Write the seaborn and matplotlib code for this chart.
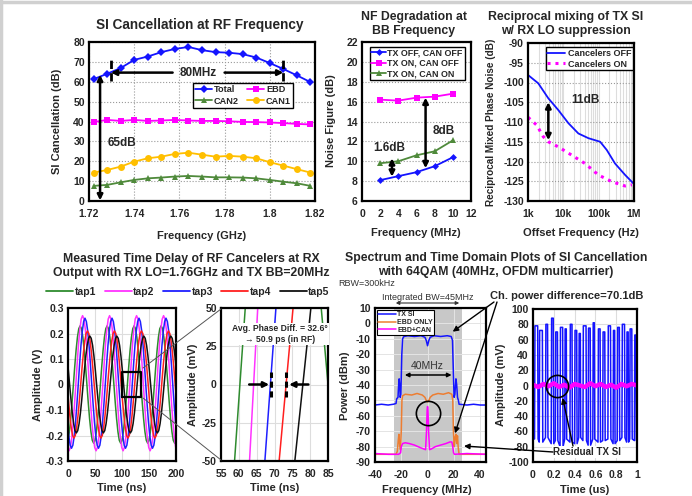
import matplotlib.pyplot as plt
import numpy as np
import seaborn as sns
from matplotlib.lines import Line2D
from matplotlib.patches import FancyArrowPatch

W, H = 692, 496

# ---- SI cancellation at RF frequency ----
rf_freq = [1.722, 1.728, 1.734, 1.740, 1.746, 1.752, 1.758, 1.764, 1.770,
           1.776, 1.782, 1.788, 1.794, 1.800, 1.806, 1.812, 1.818]
si_total = [61.3, 64.0, 66.9, 71.0, 72.7, 74.9, 76.5, 77.5, 75.9, 74.9, 74.6,
            73.9, 72.2, 69.4, 66.4, 63.2, 59.8]
si_ebd = [39.7, 40.8, 40.3, 40.8, 40.3, 40.5, 40.8, 40.5, 40.3, 40.3, 40.1,
          39.8, 39.7, 39.5, 39.2, 38.8, 38.5]
si_can2 = [7.6, 8.1, 9.4, 10.6, 11.4, 11.8, 12.3, 12.6, 12.3, 11.9, 11.9,
           11.8, 11.4, 10.6, 9.7, 8.9, 7.6]
si_can1 = [14.3, 15.6, 17.3, 19.8, 21.5, 22.3, 23.7, 24.3, 23.3, 22.3, 22.7,
           22.3, 21.5, 19.5, 17.8, 16.0, 14.3]

# ---- NF degradation ----
bb_freq = [2, 4, 6, 8, 10]
nf_off_off = [8.1, 8.5, 8.9, 9.5, 10.4]
nf_on_off = [16.2, 16.1, 16.4, 16.5, 16.8]
nf_on_on = [9.8, 10.0, 10.6, 11.0, 12.1]

# ---- reciprocal mixing ----
pn_off_f = [1e3, 1.95e3, 3.76e3, 7.24e3, 1.39e4, 2.66e4, 5.13e4, 1.1e5,
            1.7e5, 2.9e5, 5.6e5, 9.5e5]
pn_off = [-98.1, -100.2, -104.0, -107.0, -110.3, -112.9, -114.1, -115.0,
          -117.1, -120.5, -123.4, -125.5]
pn_on_f = [1e3, 1.77e3, 2.7e3, 3.76e3, 7.24e3, 1.73e4, 4.1e4, 9.8e4,
           2.35e5, 5.6e5, 8.7e5]
pn_on = [-108.8, -110.8, -113.7, -115.0, -116.3, -118.4, -120.5, -123.4,
         -125.1, -126.2, -125.9]

# ---- time delay of taps (one 50 ns period, 2.5 ns steps, from rising zero) ----
tap_names = ["tap1", "tap2", "tap3", "tap4", "tap5"]
tap_colors = ["#2e8b2e", "#ff33ff", "#1f1fff", "#ff1f1f", "#111111"]
tap_zero = [10.0, 14.5, 19.0, 23.5, 28.0]
tap_period = [
    [0, .071, .135, .186, .219, .23, .219, .186, .135, .071,
     0, -.071, -.135, -.186, -.219, -.23, -.219, -.186, -.135, -.071],
    [0, .083, .159, .218, .257, .27, .257, .218, .159, .083,
     0, -.080, -.153, -.210, -.247, -.26, -.247, -.210, -.153, -.080],
    [0, .080, .153, .210, .247, .26, .247, .210, .153, .080,
     0, -.077, -.147, -.202, -.238, -.25, -.238, -.202, -.147, -.077],
    [0, .065, .123, .170, .200, .21, .200, .170, .123, .065,
     0, -.065, -.123, -.170, -.200, -.21, -.200, -.170, -.123, -.065],
    [0, .059, .112, .154, .181, .19, .181, .154, .112, .059,
     0, -.059, -.112, -.154, -.181, -.19, -.181, -.154, -.112, -.059],
]
# zoomed view: time (ns) where each tap crosses -50 mV and +50 mV
inset_lo = [58.8, 63.0, 67.3, 71.3, 75.7]
inset_hi = [61.8, 65.3, 70.4, 75.2, 80.2]

# ---- spectrum ----
tx_si_f = [-40, -35, -30, -26, -24, -23.5, -22.5, -22, -21.6, -21.2, -20.8, -20.3,
           -19.6, -19, -18, -15, -10, -5, -2, -1, 0, 1, 2, 5, 10, 15, 18, 19,
           19.6, 20.2, 20.8, 21.6, 22.2, 22.8, 23.5, 24, 30, 35, 40, 44.5]
tx_si_p = [-53, -52.5, -53, -52.5, -52, -49, -48, -40, -36, -40, -48, -46,
           -20, -10, -8.5, -8, -8.5, -8, -9, -11, -14.5, -11, -9, -8, -8.5, -8, -8.5, -11,
           -30, -48, -46, -36, -40, -48, -50, -52.5, -53, -52.5, -53, -53]
ebd_f = [-40, -24, -23, -22.3, -21.8, -21.3, -20.6, -20, -19.5, -19, -17, -12,
         -8, -4, -2, -1, 0, 1, 2, 4, 8, 12, 16, 18.5, 19.2, 19.7, 20.3, 21, 21.6,
         22.2, 22.8, 23.3, 24, 44.5]
ebd_p = [-85, -85, -83, -76, -72, -78, -82, -70, -50, -47, -46, -46.5,
         -45.5, -46.5, -48, -50, -51, -50, -48, -46.5, -45.5, -46, -45, -46, -50,
         -70, -80, -74, -72, -78, -73, -80, -85, -85]
can_f = [-40, -30, -22, -20.5, -20, -19, -17, -14, -10, -6, -3, -1.5, -0.8,
         -0.3, 0, 0.3, 0.8, 1.5, 3, 6, 10, 14, 17, 18.5, 19.2, 19.8, 20.5, 30, 44.5]
can_p = [-84.5, -85, -85, -84, -80, -78, -77.5, -78, -79, -80.5, -81.5, -82, -70,
         -56, -54, -56, -70, -82, -81.5, -80, -79, -78, -77, -77, -80, -84, -85,
         -84.5, -85]

# ---- time domain: TX SI pulses (us) and residual ----
pulse_on = [0.015, 0.06, 0.12, 0.175, 0.215, 0.26, 0.305, 0.355, 0.40, 0.44,
            0.48, 0.53, 0.575, 0.625, 0.67, 0.72, 0.77, 0.81, 0.855, 0.90, 0.93, 0.975]
pulse_off = [0.045, 0.09, 0.14, 0.195, 0.235, 0.285, 0.32, 0.375, 0.42, 0.455,
             0.51, 0.55, 0.59, 0.645, 0.69, 0.745, 0.785, 0.83, 0.88, 0.915, 0.95, 0.99]
pulse_hi = [78, 72, 80, 88, 70, 76, 74, 80, 72, 68, 78, 75, 82, 74, 70, 78, 72,
            76, 80, 70, 74, 66]
pulse_lo = [-70, -74, -68, -76, -72, -80, -70, -74, -76, -68, -72, -78, -70,
            -74, -72, -70, -76, -72, -68, -74, -70, -72]
resid_t = [0, .05, .1, .15, .2, .25, .3, .35, .4, .45, .5, .55, .6, .65, .7,
           .75, .8, .85, .9, .95, 1.0]
resid_v = [1, -2, 2, -1, 3, -2, 1, -3, 2, 0, -2, 3, -1, 2, -2, 1, -3, 2, -1, 2, 0]

BLUE = "#1414ff"
MAG = "#ff00ff"
GRN = "#4f8a3b"
YEL = "#ffbf00"
ORG = "#ed7d31"

sns.set_theme(style="white")
plt.rcParams["font.family"] = ["Liberation Sans Narrow", "Liberation Sans", "DejaVu Sans"]
plt.rcParams["font.weight"] = "bold"
plt.rcParams["axes.labelweight"] = "bold"
plt.rcParams["axes.unicode_minus"] = False

fig = plt.figure(figsize=(W / 100, H / 100), dpi=100)


def add_ax(x0, y0, x1, y1):
    ax = fig.add_axes([x0 / W, 1 - y1 / H, (x1 - x0) / W, (y1 - y0) / H])
    for s in ax.spines.values():
        s.set_color("black")
        s.set_linewidth(1.6)
    ax.tick_params(length=0, labelsize=7.5)
    ax.tick_params(axis="x", pad=6)
    ax.tick_params(axis="y", pad=3)
    return ax


def fxy(x, y):
    return (x / W, 1 - y / H)


def line(ax, x, y, **kw):
    sns.lineplot(x=x, y=y, ax=ax, sort=False, estimator=None, errorbar=None, **kw)


def arrow(ax, p0, p1, style="<|-|>", lw=1.8, ms=8):
    ax.annotate("", xy=p1, xytext=p0,
                arrowprops=dict(arrowstyle=style, color="black", lw=lw,
                                mutation_scale=ms, shrinkA=0, shrinkB=0))


def boldticks(ax):
    for lab in ax.get_xticklabels() + ax.get_yticklabels():
        lab.set_fontweight("bold")


def box_legend(ax, **kw):
    leg = ax.legend(frameon=True, fancybox=False, edgecolor="black", framealpha=1, **kw)
    leg.get_frame().set_linewidth(1)
    return leg


# slide border (light gray, top and left)
fig.add_artist(Line2D([0, 1], [1 - 1.5 / H, 1 - 1.5 / H], color="#d0d0d0", lw=2.5))
fig.add_artist(Line2D([1.5 / W, 1.5 / W], [0, 1], color="#d0d0d0", lw=2.5))

# ================= SI cancellation =================
ax1 = add_ax(89, 42, 315, 201)
line(ax1, rf_freq, si_total, color=BLUE, marker="D", markersize=4, mew=0, lw=1.3, label="Total")
line(ax1, rf_freq, si_can2, color=GRN, marker="^", markersize=5, mew=0, lw=1.3, label="CAN2")
line(ax1, rf_freq, si_ebd, color=MAG, marker="s", markersize=5, mew=0, lw=1.3, label="EBD")
line(ax1, rf_freq, si_can1, color=YEL, marker="o", markersize=5, mew=0, lw=1.3, label="CAN1")
ax1.set_xlim(1.72, 1.82)
ax1.set_ylim(0, 80)
ax1.set_xticks([1.72, 1.74, 1.76, 1.78, 1.80, 1.82])
ax1.set_xticklabels(["1.72", "1.74", "1.76", "1.78", "1.8", "1.82"])
ax1.set_yticks(range(0, 81, 10))
ax1.grid(True, ls=":", color="#999999", lw=0.8)
box_legend(ax1, loc="upper left", bbox_to_anchor=(0.46, 0.745), ncol=2, fontsize=6.6,
           borderpad=0.25, handlelength=1.8, handletextpad=0.25, columnspacing=0.9,
           labelspacing=0.3, borderaxespad=0)
for xv in [1.7297, 1.806]:
    ax1.plot([xv, xv], [60.5, 71.5], color="black", ls=(0, (3, 1.5)), lw=2)
arrow(ax1, (1.757, 64.6), (1.7297, 64.6), style="-|>")
arrow(ax1, (1.780, 64.6), (1.806, 64.6), style="-|>")
ax1.text(1.7685, 64.6, "80MHz", ha="center", va="center", fontsize=8.5, fontweight="bold")
arrow(ax1, (1.7249, 0.3), (1.7249, 63.5))
ax1.text(1.7345, 29.4, "65dB", ha="center", va="center", fontsize=8.5, fontweight="bold")
boldticks(ax1)

# ================= NF degradation =================
ax2 = add_ax(362, 42, 471, 201)
line(ax2, bb_freq, nf_off_off, color=BLUE, marker="D", markersize=3.5, mew=0, lw=1.3, label="TX OFF, CAN OFF")
line(ax2, bb_freq, nf_on_off, color=MAG, marker="s", markersize=4.5, mew=0, lw=1.3, label="TX ON, CAN OFF")
line(ax2, bb_freq, nf_on_on, color=GRN, marker="^", markersize=4.5, mew=0, lw=1.3, label="TX ON, CAN ON")
ax2.set_xlim(0, 12)
ax2.set_ylim(6, 22)
ax2.set_xticks(range(0, 13, 2))
ax2.set_yticks(range(6, 23, 2))
ax2.yaxis.grid(True, ls=":", color="#999999", lw=0.8)
box_legend(ax2, loc="upper left", bbox_to_anchor=(0.07, 0.97), fontsize=6.4,
           borderpad=0.2, handlelength=1.6, handletextpad=0.2, labelspacing=0.15,
           borderaxespad=0)
arrow(ax2, (3.3, 8.45), (3.3, 10.3))
arrow(ax2, (7.0, 9.3), (7.0, 16.4))
ax2.text(3.0, 11.3, "1.6dB", ha="center", va="center", fontsize=8.5, fontweight="bold")
ax2.text(9.0, 13.0, "8dB", ha="center", va="center", fontsize=8.5, fontweight="bold")
boldticks(ax2)

# ================= reciprocal mixing =================
ax3 = add_ax(528, 43, 634, 201)
line(ax3, pn_off_f, pn_off, color=BLUE, lw=1.3, label="Cancelers OFF")
line(ax3, pn_on_f, pn_on, color=MAG, lw=2.2, ls=(0, (1, 1.6)), label="Cancelers ON")
ax3.set_xscale("log")
ax3.set_xlim(1e3, 1e6)
ax3.set_ylim(-130, -90)
ax3.set_yticks(range(-130, -89, 5))
ax3.set_xticks([1e3, 1e4, 1e5, 1e6])
ax3.set_xticklabels(["1k", "10k", "100k", "1M"])
ax3.xaxis.grid(True, which="both", color="#dddddd", lw=0.8)
ax3.yaxis.grid(True, ls=":", color="#999999", lw=0.8)
ax3.tick_params(which="minor", length=0)
box_legend(ax3, loc="upper right", bbox_to_anchor=(0.99, 0.975), fontsize=6.5,
           borderpad=0.2, handlelength=2.0, handletextpad=0.25, labelspacing=0.2,
           borderaxespad=0)
arrow(ax3, (3760, -105.0), (3760, -114.6))
ax3.text(41000, -104.4, "11dB", ha="center", va="center", fontsize=8.5, fontweight="bold")
boldticks(ax3)

# ================= time delay: full view =================
ax4 = add_ax(68, 308, 176, 461)
for name, z, vals, col in zip(tap_names, tap_zero, tap_period, tap_colors):
    t = z - 50 + 2.5 * np.arange(20 * 6 + 1)
    v = np.append(np.tile(vals, 6), vals[0])
    line(ax4, t, v, color=col, lw=1.1, label=name)
ax4.get_legend().remove()
ax4.set_xlim(0, 200)
ax4.set_ylim(-0.3, 0.3)
ax4.set_xticks(range(0, 201, 50))
ax4.set_yticks([-0.3, -0.2, -0.1, 0, 0.1, 0.2, 0.3])
ax4.set_yticklabels(["-0.3", "-0.2", "-0.1", "0", "0.1", "0.2", "0.3"])
ax4.grid(True, color="#dddddd", lw=0.8)
ax4.plot([100, 135, 135, 100, 100], [-0.05, -0.05, 0.05, 0.05, -0.05], color="black", lw=1.6)
boldticks(ax4)

# ================= time delay: zoom =================
ax5 = add_ax(221, 308, 328, 461)
for lo, hi, col in zip(inset_lo, inset_hi, tap_colors):
    line(ax5, [lo, hi], [-50, 50], color=col, lw=1.1)
line(ax5, [83.1, 85.2], [50, -5], color=tap_colors[0], lw=1.1)
ax5.set_xlim(55, 85)
ax5.set_ylim(-50, 50)
ax5.set_xticks(range(55, 86, 5))
ax5.set_yticks([-50, -25, 0, 25, 50])
ax5.grid(True, color="#dddddd", lw=0.8)
ax5.text(71.5, 33, "Avg. Phase Diff. = 32.6\u00b0\n\u2192 50.9 ps (in RF)", ha="center",
         va="center", fontsize=6.2, fontweight="bold", linespacing=1.3,
         bbox=dict(facecolor="white", edgecolor="none", pad=1))
arrow(ax5, (62.9, 0), (68.5, 0), style="-|>", lw=1.8)
arrow(ax5, (79.5, 0), (74.1, 0), style="-|>", lw=1.8)
for xv in [68.9, 73.2]:
    ax5.plot([xv, xv], [-8, 8], color="black", ls=(0, (2, 1.2)), lw=2.2)
boldticks(ax5)

for ya, yb in [(368, 309), (398, 460)]:
    fig.add_artist(Line2D([143 / W, 221 / W], [1 - ya / H, 1 - yb / H], color="#555555", lw=0.7))

tap_handles = [Line2D([], [], color=c, lw=1.3) for c in tap_colors]
fig.legend(tap_handles, tap_names, loc="center", bbox_to_anchor=fxy(188, 292), ncol=5,
           frameon=False, fontsize=7.5, handlelength=2.6, handletextpad=0.15, columnspacing=0.8)

# ================= spectrum =================
ax6 = add_ax(375, 308, 486, 462)
ax6.axvspan(-25.7, 26, color="#c8c8c8", lw=0, zorder=0)
line(ax6, tx_si_f, tx_si_p, color=BLUE, lw=1.1, label="TX SI")
line(ax6, ebd_f, ebd_p, color=ORG, lw=1.1, label="EBD ONLY")
line(ax6, can_f, can_p, color=MAG, lw=1.1, label="EBD+CAN")
ax6.set_xlim(-40, 44.5)
ax6.set_ylim(-90, 10)
ax6.set_xticks([-40, -20, 0, 20, 40])
ax6.set_yticks(range(-90, 11, 10))
ax6.grid(True, color="#e4e4e4", lw=0.7)
ax6.set_axisbelow(True)
box_legend(ax6, loc="upper left", fontsize=5, borderpad=0.2, handlelength=2.5,
           handletextpad=0.2, labelspacing=0.1, borderaxespad=0.3).get_frame().set_linewidth(0.8)
arrow(ax6, (-17.3, -33.5), (18.3, -33.5), lw=1.1, ms=6)
ax6.text(0, -27.5, "40MHz", ha="center", va="center", fontsize=7.5, fontweight="normal", color="#333333")
ax6.plot([0], [-58.4], marker="o", ms=17.5, mfc="none", mec="black", mew=1.2)
boldticks(ax6)

# ================= time domain =================
ax7 = add_ax(533, 309, 637, 462)
td_t, td_v = [0.0], [-5.0]
for on, off, hi, lo in zip(pulse_on, pulse_off, pulse_hi, pulse_lo):
    td_t += [on, on + 0.004, off, off + 0.004]
    td_v += [lo, hi, hi, lo]
line(ax7, td_t, td_v, color=BLUE, lw=1.1)
line(ax7, resid_t, resid_v, color=MAG, lw=3.2)
ax7.set_xlim(0, 1)
ax7.set_ylim(-100, 100)
ax7.set_xticks([0, 0.2, 0.4, 0.6, 0.8, 1])
ax7.set_xticklabels(["0", "0.2", "0.4", "0.6", "0.8", "1"])
ax7.set_yticks(range(-100, 101, 20))
ax7.grid(True, color="#dddddd", lw=0.8)
ax7.plot([0.23], [0], marker="o", ms=16, mfc="none", mec="black", mew=1.2)
ax7.text(0.52, -87, "Residual TX SI", ha="center", va="center", fontsize=7, fontweight="bold",
         bbox=dict(facecolor="white", edgecolor="none", pad=1), zorder=5)
boldticks(ax7)

# ================= figure-level text =================
fig.text(*fxy(200, 25), "SI Cancellation at RF Frequency", ha="center", va="center", fontsize=9.8, fontweight="bold")
fig.text(*fxy(414, 24), "NF Degradation at\nBB Frequency", ha="center", va="center", fontsize=8.8, fontweight="bold", linespacing=1.15)
fig.text(*fxy(566, 24), "Reciprocal mixing of TX SI\nw/ RX LO suppression", ha="center", va="center", fontsize=8.8, fontweight="bold", linespacing=1.15)
fig.text(*fxy(191, 266), "Measured Time Delay of RF Cancelers at RX\nOutput with RX LO=1.76GHz and TX BB=20MHz", ha="center", va="center", fontsize=8.8, fontweight="bold", linespacing=1.25)
fig.text(*fxy(496, 265), "Spectrum and Time Domain Plots of SI Cancellation\nwith 64QAM (40MHz, OFDM multicarrier)", ha="center", va="center", fontsize=8.8, fontweight="bold", linespacing=1.25)

fs_l = 8
fig.text(*fxy(202, 236), "Frequency (GHz)", ha="center", va="center", fontsize=fs_l, fontweight="bold")
fig.text(*fxy(416, 233), "Frequency (MHz)", ha="center", va="center", fontsize=fs_l, fontweight="bold")
fig.text(*fxy(581, 233), "Offset Frequency (Hz)", ha="center", va="center", fontsize=fs_l, fontweight="bold")
fig.text(*fxy(122, 488), "Time (ns)", ha="center", va="center", fontsize=fs_l, fontweight="bold")
fig.text(*fxy(275, 488), "Time (ns)", ha="center", va="center", fontsize=fs_l, fontweight="bold")
fig.text(*fxy(427, 490), "Frequency (MHz)", ha="center", va="center", fontsize=fs_l, fontweight="bold")
fig.text(*fxy(585, 490), "Time (us)", ha="center", va="center", fontsize=fs_l, fontweight="bold")

fig.text(*fxy(57, 121), "SI Cancellation (dB)", rotation=90, ha="center", va="center", fontsize=fs_l, fontweight="bold")
fig.text(*fxy(331, 121), "Noise Figure (dB)", rotation=90, ha="center", va="center", fontsize=fs_l, fontweight="bold")
fig.text(*fxy(491, 122), "Reciprocal Mixed Phase Noise (dB)", rotation=90, ha="center", va="center", fontsize=7.2, fontweight="bold")
fig.text(*fxy(38, 385), "Amplitude (V)", rotation=90, ha="center", va="center", fontsize=fs_l, fontweight="bold")
fig.text(*fxy(193, 385), "Amplitude (mV)", rotation=90, ha="center", va="center", fontsize=fs_l, fontweight="bold")
fig.text(*fxy(345, 386), "Power (dBm)", rotation=90, ha="center", va="center", fontsize=fs_l, fontweight="bold")
fig.text(*fxy(501, 385), "Amplitude (mV)", rotation=90, ha="center", va="center", fontsize=fs_l, fontweight="bold")

fig.text(*fxy(338, 284), "RBW=300kHz", ha="left", va="center", fontsize=6.5, fontweight="normal", color="#333333")
fig.text(*fxy(428, 297), "Integrated BW=45MHz", ha="center", va="center", fontsize=6.5, fontweight="normal", color="#333333")
fig.add_artist(FancyArrowPatch(fxy(393, 303), fxy(462, 303), transform=fig.transFigure,
               arrowstyle="<|-|>", mutation_scale=5, color="#333333", lw=0.8))
fig.text(*fxy(567, 296), "Ch. power difference=70.1dB", ha="center", va="center", fontsize=8, fontweight="bold")


def fig_arrow(p0, p1, lw=1.0):
    fig.add_artist(FancyArrowPatch(fxy(*p0), fxy(*p1), transform=fig.transFigure,
                   arrowstyle="-|>", mutation_scale=8, color="black", lw=lw, shrinkA=0, shrinkB=0))


fig_arrow((494, 302), (452.7, 331.7))
fig_arrow((497, 302), (455, 433.3))
fig_arrow((553, 452), (464, 446))
fig_arrow((573, 446), (562.7, 398))

fig.savefig("out.png", dpi=100)
